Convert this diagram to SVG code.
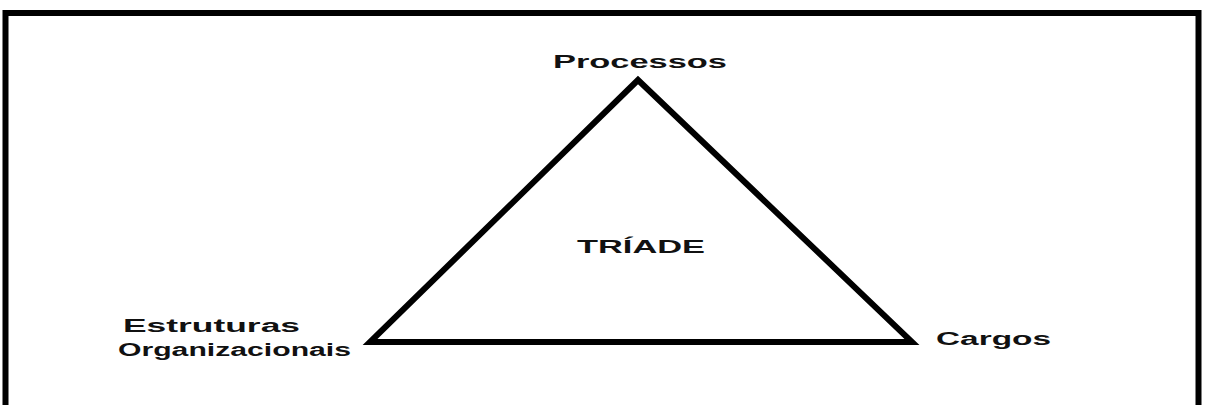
<svg xmlns="http://www.w3.org/2000/svg" width="1205" height="405" viewBox="0 0 1205 405">
<style>
.lbl{font-family:"Liberation Sans",Arial,sans-serif;font-weight:bold;font-size:18px;fill:#111}
</style>
<rect width="1205" height="405" fill="#fff"/>
<rect x="5.5" y="13" width="1193" height="430" fill="none" stroke="#000" stroke-width="6"/>
<g id="connectors">
<polygon points="638,80 370,342 912,342" fill="none" stroke="#000" stroke-width="6" stroke-linejoin="miter"/>
</g>
<g id="processos"><text class="lbl" x="553" y="68" textLength="174" lengthAdjust="spacingAndGlyphs">Processos</text></g>
<g id="triade"><text class="lbl" x="577" y="253" textLength="128" lengthAdjust="spacingAndGlyphs">TRÍADE</text></g>
<g id="estruturas">
<text class="lbl" x="123" y="332" textLength="177" lengthAdjust="spacingAndGlyphs">Estruturas</text>
<text class="lbl" x="118" y="356" textLength="233" lengthAdjust="spacingAndGlyphs">Organizacionais</text>
</g>
<g id="cargos"><text class="lbl" x="936" y="345" textLength="115" lengthAdjust="spacingAndGlyphs">Cargos</text></g>
</svg>
